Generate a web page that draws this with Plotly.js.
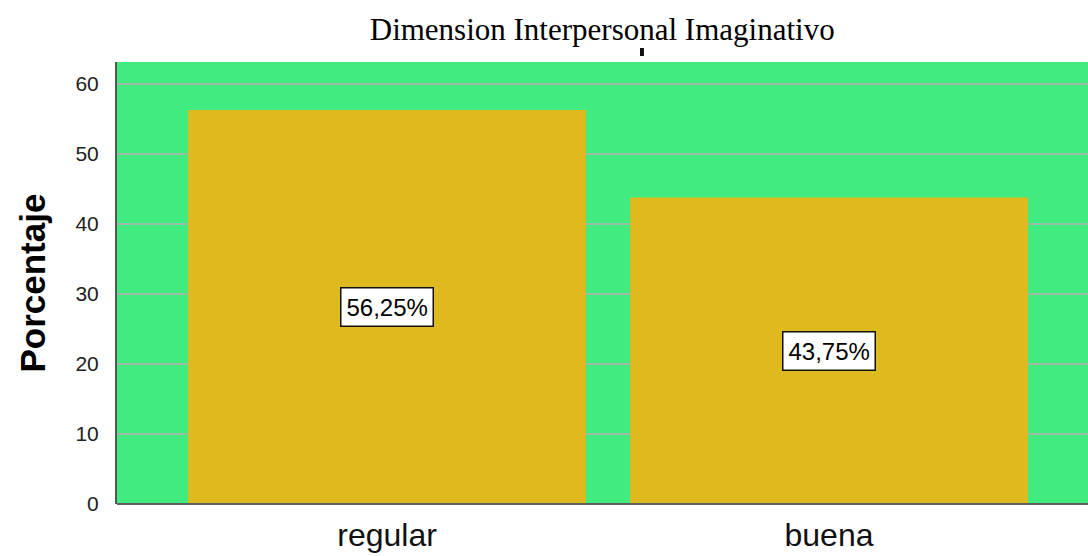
<!DOCTYPE html>
<html>
<head>
<meta charset="utf-8">
<script src="https://cdn.plot.ly/plotly-3.0.1.min.js"></script>
<style>
  html, body { margin: 0; padding: 0; background: #ffffff; }
  #chart { width: 1088px; height: 556px; }
</style>
</head>
<body>
<div id="chart"></div>
<script>
// Categories and percentages
const categories = ['regular', 'buena'];
const percentages = [56.25, 43.75];
const valueLabels = ['56,25%', '43,75%'];
const yTicks = [0, 10, 20, 30, 40, 50, 60];

const barTrace = {
  type: 'bar',
  x: categories,
  y: percentages,
  width: 0.9,
  marker: { color: '#DFBA1F', line: { width: 0 } },
  hoverinfo: 'skip'
};

// Boxed value labels placed at half the bar height
const valueAnnotations = categories.map((c, i) => ({
  x: c,
  y: percentages[i] / 2,
  xref: 'x',
  yref: 'y',
  text: valueLabels[i],
  showarrow: false,
  font: { family: 'Liberation Sans, Arial, sans-serif', size: 24, color: '#000000' },
  bgcolor: '#ffffff',
  bordercolor: '#111111',
  borderwidth: 1.5,
  borderpad: 5
}));

const layout = {
  width: 1088,
  height: 556,
  margin: { l: 117, r: 0, t: 62, b: 52 },
  paper_bgcolor: '#ffffff',
  plot_bgcolor: '#42EB80',
  showlegend: false,
  bargap: 0.1,
  title: {
    text: 'Dimension Interpersonal Imaginativo',
    font: { family: 'Liberation Serif, Times New Roman, serif', size: 31, color: '#000000' },
    x: 0.5535,
    xanchor: 'center',
    xref: 'container',
    y: 0.967,
    yanchor: 'top',
    yref: 'container'
  },
  xaxis: {
    type: 'category',
    range: [-0.611, 1.586],
    showgrid: false,
    zeroline: false,
    showline: false,
    ticks: '',
    ticklabelstandoff: 9,
    tickfont: { family: 'Liberation Sans, Arial, sans-serif', size: 32, color: '#111111' }
  },
  yaxis: {
    range: [0, 63.1],
    tickvals: yTicks,
    ticktext: yTicks.map(String),
    showgrid: true,
    gridcolor: '#9cbca8',
    gridwidth: 2,
    zeroline: false,
    showline: true,
    linecolor: '#555555',
    linewidth: 2,
    ticks: '',
    ticklabelstandoff: 12,
    tickfont: { family: 'Liberation Sans, Arial, sans-serif', size: 21, color: '#222222' }
  },
  shapes: [
    {
      // baseline along the bottom of the plot
      type: 'line', xref: 'paper', yref: 'paper',
      x0: 0, x1: 1, y0: 0, y1: 0,
      line: { color: '#5e5e5e', width: 2 },
      layer: 'above'
    },
    {
      // small tick mark beneath the title
      type: 'rect', xref: 'paper', yref: 'paper',
      x0: 0.5386, x1: 0.5427, y0: 1.0136, y1: 1.0317,
      fillcolor: '#111111', line: { width: 0 }
    }
  ],
  annotations: valueAnnotations.concat([
    {
      text: '<b>Porcentaje</b>',
      xref: 'paper', yref: 'paper',
      x: -0.088, y: 0.5,
      xanchor: 'center', yanchor: 'middle',
      textangle: -90,
      showarrow: false,
      font: { family: 'Liberation Sans, Arial, sans-serif', size: 35, color: '#000000' }
    }
  ])
};

Plotly.newPlot('chart', [barTrace], layout, { displayModeBar: false, staticPlot: true });
</script>
</body>
</html>
